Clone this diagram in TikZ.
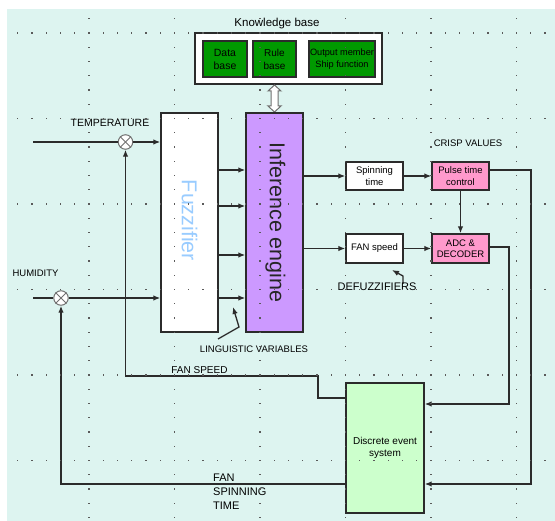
\documentclass[tikz,border=0pt]{standalone}
\usepackage{fontspec}
\setmainfont{Liberation Sans}
\usetikzlibrary{arrows.meta}
\definecolor{bgc}{HTML}{DDF4F0}
\definecolor{linec}{HTML}{2B2B2B}
\definecolor{dotc}{HTML}{5A5A5A}
\definecolor{kbgreen}{HTML}{009900}
\definecolor{infpurple}{HTML}{CC99FF}
\definecolor{pinkc}{HTML}{FF99CC}
\definecolor{desgreen}{HTML}{CCFFCC}
\definecolor{fuzzblue}{HTML}{99CCFF}
\definecolor{circc}{HTML}{707070}
\begin{document}
\begin{tikzpicture}[x=1pt,y=-1pt,
  box/.style={draw=linec,line width=1.4pt,inner sep=0pt,align=center,text=black,font=\fontsize{9.5}{11.5}\selectfont},
  ln/.style={draw=linec,line width=1.3pt},
  arr/.style={ln,-{Latex[length=7pt,width=5.5pt]}},
  lab/.style={inner sep=0pt,text=black,font=\fontsize{9.5}{11}\selectfont},
  sumj/.style={circle,draw=circc,fill=white,line width=1pt,minimum size=14.5pt,inner sep=0pt},
  bigtext/.style={font=\fontsize{21.5}{24}\selectfont,rotate=-90,inner sep=0pt}
]
\useasboundingbox (0,0) rectangle (555,521);
\fill[white] (0,0) rectangle (555,521);
\fill[bgc] (7,9) rectangle (555,521);

% helper coordinates
\coordinate (yA) at (0,170);
\coordinate (yB) at (0,206);
\coordinate (yC) at (0,255);
\coordinate (yD) at (0,298);
\coordinate (yFS) at (0,376);
\coordinate (yDs) at (0,398);
\coordinate (yDu) at (0,404);
\coordinate (yDl) at (0,484);
\coordinate (yAdc) at (0,247);
\coordinate (xFS) at (318,0);
\coordinate (xR1) at (509,0);
\coordinate (xR2) at (531,0);
\coordinate (tin) at (33,142);
\coordinate (hin) at (33,298);

% Knowledge base
\node[box,fill=white,minimum width=187pt,minimum height=51pt] (kb) at (288.5,58.5) {};
\node[box,fill=kbgreen,minimum width=44pt,minimum height=36pt,font=\fontsize{10.5}{13}\selectfont] (data) at (225,59) {Data\\base};
\node[box,fill=kbgreen,minimum width=43pt,minimum height=36pt,font=\fontsize{10}{13}\selectfont] (rule) at (274.5,59) {Rule\\base};
\node[box,fill=kbgreen,minimum width=66pt,minimum height=36pt,font=\fontsize{9.2}{12.5}\selectfont] (outm) at (342,59) {Output member\\Ship function};
\node[lab,font=\fontsize{11.5}{13}\selectfont] (kbl) at (277,24) {Knowledge base};

% double arrow between knowledge base and inference engine
\draw[draw=circc,fill=white,line width=1pt]
  (271,91) -- (268,91) -- (274.5,85) -- (281,91) -- (278,91) -- (278,106)
  -- (281,106) -- (274.5,112) -- (268,106) -- (271,106) -- cycle;

% main blocks
\node[box,fill=white,minimum width=57pt,minimum height=219pt,
  label={[bigtext,text=fuzzblue,xshift=-2pt]center:Fuzzifier}] (fuzz) at (189.5,222.5) {};
\node[box,fill=infpurple,minimum width=57pt,minimum height=219pt,
  label={[bigtext,text=black!85,yshift=1pt]center:Inference engine}] (inf) at (274.5,222.5) {};

\node[box,fill=white,minimum width=57pt,minimum height=28pt] (spin) at (374.5,176) {Spinning\\time};
\node[box,fill=pinkc,minimum width=57pt,minimum height=28pt] (pulse) at (460.5,176) {Pulse time\\control};
\node[box,fill=white,minimum width=57pt,minimum height=29pt] (fan) at (374.5,248.5) {FAN speed};
\node[box,fill=pinkc,minimum width=57pt,minimum height=29pt] (adc) at (460.5,248.5) {ADC \&\\DECODER};
\node[box,fill=desgreen,minimum width=78pt,minimum height=130pt,font=\fontsize{10}{11.5}\selectfont] (des) at (385,448) {Discrete event\\system};

% summing junctions
\node[sumj] (sum1) at (125.5,142) {};
\node[sumj] (sum2) at (61,298) {};
\foreach \s in {sum1,sum2}{
  \draw[circc,line width=0.9pt] (\s.north west) -- (\s.south east);
  \draw[circc,line width=0.9pt] (\s.north east) -- (\s.south west);
}

% connectors
\draw[ln] (tin) -- (sum1.west);
\draw[ln] (hin) -- (sum2.west);
\draw[arr] (sum1.east) -- (fuzz.west |- sum1);
\draw[arr] (sum2.east) -- (fuzz.west |- sum2);
\foreach \c in {yA,yB,yC,yD}{
  \draw[arr] (fuzz.east |- \c) -- (inf.west |- \c);
}
\draw[arr] (inf.east |- spin) -- (spin.west);
\draw[arr] (spin.east) -- (pulse.west);
\draw[arr] (inf.east |- fan) -- (fan.west);
\draw[arr] (fan.east) -- (adc.west);
\draw[arr] (pulse.south) -- (adc.north);
\draw[arr] (pulse.east |- yA) -| (xR2 |- yDl) -- (des.east |- yDl);
\draw[arr] (adc.east |- yAdc) -| (xR1 |- yDu) -- (des.east |- yDu);
\draw[arr] (des.west |- yDs) -| (xFS |- yFS) -| (sum1.south);
\draw[arr] (des.west |- yDl) -| (sum2.south);

% pointers
\coordinate (lv0) at (218,339);
\coordinate (lv1) at (239,327);
\coordinate (lvt) at (233,307);
\draw[arr] (lv0) -- (lv1) -- (lvt);
\coordinate (df0) at (403,284);
\coordinate (df1) at (403,276);
\coordinate (dft) at (392,270);
\draw[arr] (df0) -- (df1) -- (dft);

% labels
\node[lab,font=\fontsize{10.5}{12}\selectfont] (ltemp) at (110,123) {TEMPERATURE};
\node[lab] (lhum) at (35.5,273) {HUMIDITY};
\node[lab] (lcrisp) at (468,143) {CRISP VALUES};
\node[lab,font=\fontsize{11}{13}\selectfont] (ldefuzz) at (377,287) {DEFUZZIFIERS};
\node[lab] (lling) at (254,349) {LINGUISTIC VARIABLES};
\node[lab,font=\fontsize{10}{12}\selectfont] (lfs) at (199.5,370.5) {FAN SPEED};
\node[lab,font=\fontsize{11}{14}\selectfont,align=left,anchor=north west] (lfst) at (213,474) {FAN\\SPINNING\\TIME};

% grid dots
\foreach \r in {0,...,5}{
  \foreach \i in {1,...,38}{
    \fill[dotc] ({3.5+14.25*\i-0.6},{33+85.5*\r-0.6}) rectangle ++(1.2,1.2);
  }
}
\foreach \c in {1,...,6}{
  \foreach \j in {-1,...,34}{
    \fill[dotc] ({3.5+85.5*\c-0.6},{33+14.25*\j-0.6}) rectangle ++(1.2,1.2);
  }
}
\end{tikzpicture}
\end{document}
